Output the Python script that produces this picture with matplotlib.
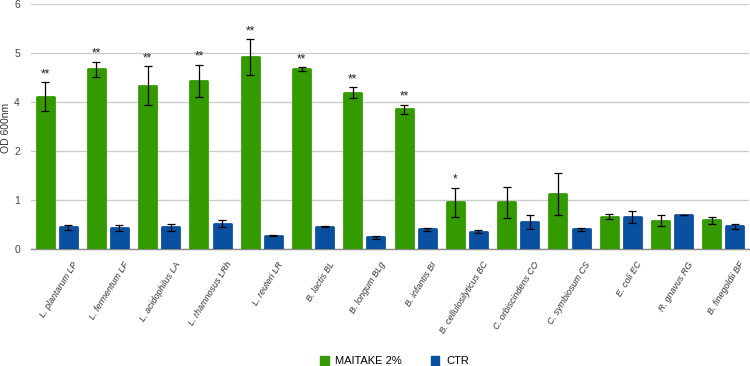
import matplotlib
matplotlib.use("Agg")
import matplotlib.pyplot as plt
import numpy as np
from matplotlib.patches import Patch

plt.rcParams["font.family"] = ["Liberation Sans", "DejaVu Sans"]

categories = ["L. plantarum LP", "L. fermentum LF", "L. acidophilus LA", "L. rhamnosus LRh",
              "L. reuteri LR", "B. lactis BL", "B. longum BLg", "B. infantis BI",
              "B. cellulosilyticus BC", "C. orbiscindens CO", "C. symbiosum CS",
              "E. coli EC", "R. gnavus RG", "B. finegoldii BF"]
# values expressed in axis positions (axis tick labels read 0,1,2,4,5,6 at equal spacing)
maitake = [3.11, 3.67, 3.33, 3.43, 3.92, 3.67, 3.19, 2.85, 0.95, 0.95, 1.13, 0.66, 0.58, 0.59]
maitake_err = [0.29, 0.15, 0.40, 0.33, 0.36, 0.04, 0.11, 0.09, 0.30, 0.32, 0.43, 0.05, 0.12, 0.07]
ctr = [0.44, 0.43, 0.44, 0.52, 0.27, 0.45, 0.24, 0.40, 0.35, 0.55, 0.40, 0.66, 0.69, 0.46]
ctr_err = [0.045, 0.065, 0.07, 0.07, 0.01, 0.01, 0.035, 0.035, 0.03, 0.135, 0.035, 0.125, 0.005, 0.055]
signif = ["**", "**", "**", "**", "**", "**", "**", "**", "*", "", "", "", "", ""]
ytick_labels = ["0", "1", "2", "4", "5", "6"]

green = "#339a00"
blue = "#0a50a0"

fig = plt.figure(figsize=(7.5, 3.66), dpi=100)
ax = fig.add_axes([31/750, 1-249/366, 718/750, 245/366])

x = np.arange(len(categories))
off = 0.225
w = 0.33
ax.bar(x - off, maitake, width=w, color=green, edgecolor=green, linewidth=2.0,
       joinstyle="round", zorder=3)
ax.bar(x + off, ctr, width=w, color=blue, edgecolor=blue, linewidth=2.0,
       joinstyle="round", zorder=3)
ax.errorbar(x - off, maitake, yerr=maitake_err, fmt="none", ecolor="black",
            elinewidth=0.9, capsize=3, capthick=0.9, zorder=4)
ax.errorbar(x + off, ctr, yerr=ctr_err, fmt="none", ecolor="black",
            elinewidth=0.9, capsize=3, capthick=0.9, zorder=4)

for xi, v, e, s in zip(x, maitake, maitake_err, signif):
    if s:
        ax.annotate(s, (xi - off, v + e), xytext=(0, 1.5), textcoords="offset points",
                    ha="center", va="bottom", fontsize=8.5, color="#222222")

ax.set_xlim(-0.5, len(categories) - 0.5)
ax.set_ylim(0, 5)
ax.set_yticks(range(6))
ax.set_yticklabels(ytick_labels, fontsize=7.5, color="#444444")
ax.yaxis.grid(True, color="#cccccc", linewidth=1, zorder=0)
ax.set_axisbelow(True)
for sp in ["top", "right", "left"]:
    ax.spines[sp].set_visible(False)
ax.spines["bottom"].set_color("#888888")
ax.spines["bottom"].set_linewidth(1)
ax.tick_params(axis="y", length=0, pad=8)
ax.tick_params(axis="x", length=0)
ax.set_xticks(x + 0.3)
ax.set_xticklabels(categories, rotation=58, ha="right", rotation_mode="anchor",
                   fontsize=6.5, fontstyle="italic", color="#333333")
ax.tick_params(axis="x", pad=8)
fig.text(6/750, 1-128/366, "OD 600nm", rotation=90, ha="center", va="center",
         fontsize=7.5, color="#333333")

handles = [Patch(color=green, label="MAITAKE 2%"), Patch(color=blue, label="CTR")]
fig.legend(handles=handles, loc="center", bbox_to_anchor=(0.526, 1-361/366), ncol=2,
           frameon=False, fontsize=8, handlelength=0.75, handleheight=1.0,
           columnspacing=2.6, handletextpad=0.6, borderaxespad=0, borderpad=0)

fig.savefig("out.png", dpi=100)
